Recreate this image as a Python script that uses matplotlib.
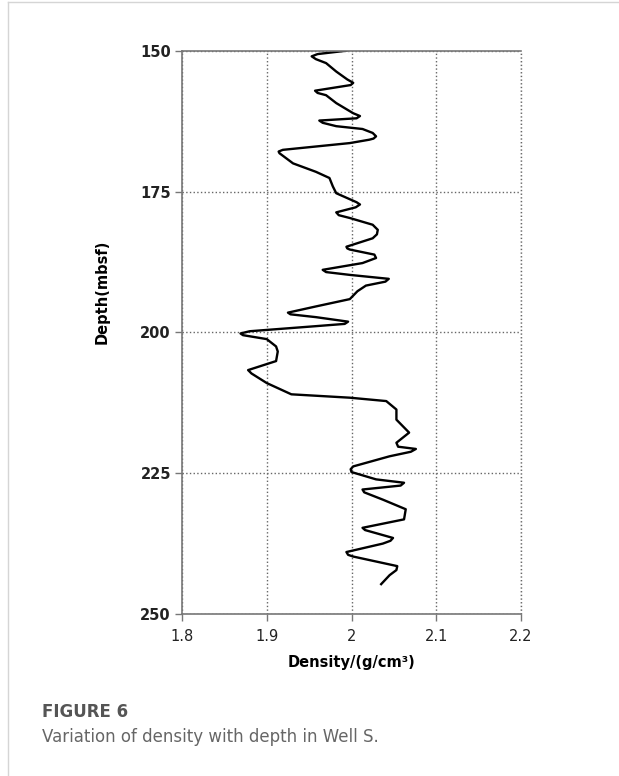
import numpy as np
import matplotlib.pyplot as plt
from matplotlib.lines import Line2D

# density log of Well S
density = [1.994, 1.960, 1.953, 1.958, 1.970, 1.982, 1.995, 2.002, 1.999, 1.957,
           1.960, 1.970, 1.982, 2.002, 2.010, 2.006, 1.962, 1.966, 1.982, 2.013,
           2.025, 2.029, 2.026, 2.021, 1.998, 1.919, 1.914, 1.915, 1.931, 1.958,
           1.974, 1.978, 1.982, 2.006, 2.010, 2.005, 1.982, 1.985, 1.998, 2.025,
           2.031, 2.030, 2.025, 1.994, 1.995, 1.998, 2.027, 2.029, 2.013, 1.966,
           1.970, 1.998, 2.044, 2.040, 2.017, 2.007, 1.998, 1.958, 1.925, 1.928,
           1.958, 1.996, 1.992, 1.958, 1.880, 1.869, 1.872, 1.880, 1.900, 1.911,
           1.913, 1.911, 1.878, 1.882, 1.900, 1.929, 1.998, 2.041, 2.053, 2.053,
           2.068, 2.053, 2.055, 2.076, 2.070, 2.045, 2.002, 1.999, 2.000, 2.029,
           2.062, 2.058, 2.013, 2.015, 2.037, 2.064, 2.062, 2.013, 2.016, 2.049,
           2.046, 2.037, 1.994, 1.996, 2.002, 2.054, 2.053, 2.045, 2.035]
depth = [150.0, 150.6, 151.0, 151.5, 152.2, 153.7, 155.1, 155.7, 156.1, 157.1,
         157.5, 157.9, 159.3, 161.1, 161.6, 162.0, 162.4, 162.8, 163.4, 163.9,
         164.6, 165.2, 165.6, 165.8, 166.4, 167.6, 167.9, 168.2, 170.0, 171.5,
         172.6, 174.1, 175.3, 176.9, 177.3, 177.8, 178.7, 179.2, 179.7, 180.9,
         181.8, 182.6, 183.3, 184.8, 185.1, 185.3, 186.2, 186.8, 187.7, 188.9,
         189.3, 189.8, 190.5, 191.0, 191.7, 192.7, 194.1, 195.4, 196.5, 196.8,
         197.3, 198.1, 198.5, 198.9, 199.8, 200.2, 200.5, 200.7, 201.2, 202.5,
         203.4, 205.1, 206.7, 207.3, 209.0, 211.0, 211.6, 212.2, 213.7, 215.5,
         217.8, 219.6, 220.3, 220.7, 221.2, 222.0, 223.8, 224.3, 224.8, 226.1,
         226.7, 227.2, 227.9, 228.4, 229.7, 231.4, 233.2, 234.7, 235.1, 236.5,
         237.0, 237.5, 239.0, 239.5, 239.8, 241.5, 242.2, 243.1, 244.7]

xticks = [1.8, 1.9, 2.0, 2.1, 2.2]
xticklabels = ["1.8", "1.9", "2", "2.1", "2.2"]
yticks = [150, 175, 200, 225, 250]

W, H = 619, 776
fig = plt.figure(figsize=(W / 100, H / 100), dpi=100)
ax = fig.add_axes([182 / W, 1 - 614 / H, (521 - 182) / W, (614 - 50.7) / H])

ax.plot(density, depth, color="black", lw=1.7, solid_joinstyle="round")

ax.set_xlim(1.8, 2.2)
ax.set_ylim(250, 150)
ax.set_xticks(xticks)
ax.set_xticklabels(xticklabels, fontsize=10.5, color="#222222")
ax.set_yticks(yticks)
ax.set_yticklabels([str(v) for v in yticks], fontsize=10.5, fontweight="bold",
                   color="#222222")
ax.tick_params(length=5, color="#777777", width=1, pad=3)
ax.tick_params(axis="x", pad=6)

# dotted grid
ax.grid(True, ls=":", color="#666666", lw=1)
ax.axvline(2.2, ls=":", color="#666666", lw=1, clip_on=False)
for s in ["left", "bottom", "top"]:
    ax.spines[s].set_color("#777777")
    ax.spines[s].set_linewidth(1.2)
ax.spines["right"].set_visible(False)

ax.set_xlabel("Density/(g/cm³)", fontsize=10.5, fontweight="bold", labelpad=8)
fig.text(102 / W, 1 - 292 / H, "Depth(mbsf)", rotation=90, fontsize=10.5,
         fontweight="bold", ha="center", va="center")

# caption
fig.text(42 / W, 1 - 712 / H, "FIGURE 6", fontsize=12, fontweight="bold",
         color="#555555", va="center")
fig.text(42 / W, 1 - 737 / H, "Variation of density with depth in Well S.",
         fontsize=12, color="#666666", va="center")

# panel border
fig.add_artist(Line2D([8 / W, 8 / W], [0, 1 - 2 / H], color="#d5d5d5", lw=1))
fig.add_artist(Line2D([8 / W, 1], [1 - 2 / H, 1 - 2 / H], color="#d5d5d5", lw=1))

fig.savefig("out.png", dpi=100)
